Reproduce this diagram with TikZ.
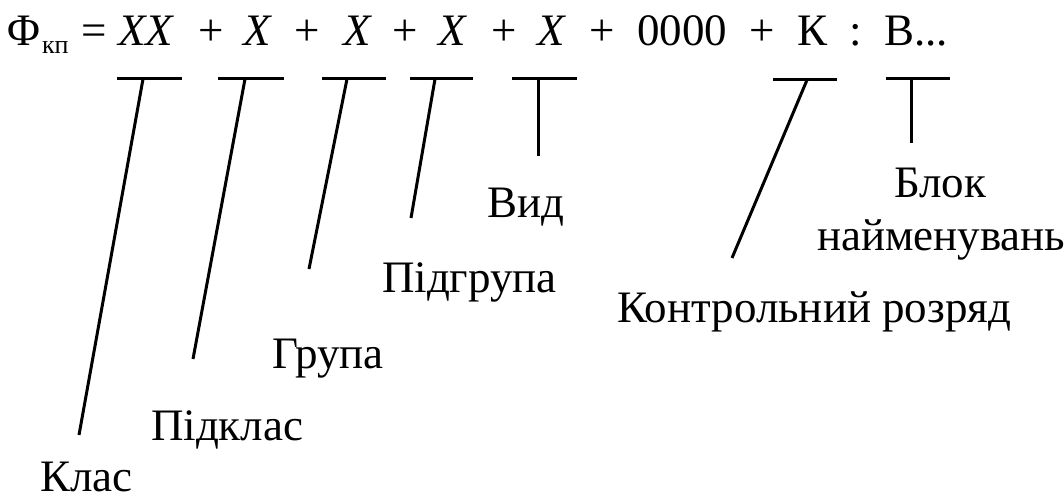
\documentclass[tikz,border=0pt]{standalone}
\usepackage{fontspec}
\setmainfont{Liberation Serif}
\newfontfamily\tnr{Liberation Serif}
\begin{document}
\begin{tikzpicture}[x=1pt,y=-1pt,
  txt/.style={anchor=base west,inner sep=0pt,outer sep=0pt,font=\tnr\fontsize{45}{54}\selectfont},
  sub/.style={anchor=base west,inner sep=0pt,outer sep=0pt,font=\tnr\fontsize{26}{30}\selectfont},
  ln/.style={line width=3pt,line cap=butt}]
\useasboundingbox (0,0) rectangle (1064,497);
% formula
\node[txt] (phi) at (7,46) {Φ};
\node[sub] (kp) at (42,54) {кп};
\node[txt] (eq) at (81,46) {=};
\node[txt] (xx) at (118,46) {\itshape XX};
\node[txt] (p1) at (198,46) {+};
\node[txt] (x1) at (243,46) {\itshape X};
\node[txt] (p2) at (294,46) {+};
\node[txt] (x2) at (343,46) {\itshape X};
\node[txt] (p3) at (392,46) {+};
\node[txt] (x3) at (438,46) {\itshape X};
\node[txt] (p4) at (491,46) {+};
\node[txt] (x4) at (537,46) {\itshape X};
\node[txt] (p5) at (589,46) {+};
\node[txt] (zz) at (637,46) {0000};
\node[txt] (p6) at (749,46) {+};
\node[txt] (kk) at (797,46) {К};
\node[txt] (col) at (849,46) {:};
\node[txt] (bb) at (884,46) {В...};
% labels
\node[txt] (klas) at (40,491) {Клас};
\node[txt] (pidklas) at (151,440) {Підклас};
\node[txt] (grupa) at (272,368) {Група};
\node[txt] (pidgrupa) at (382,292) {Підгрупа};
\node[txt] (vyd) at (487,217) {Вид};
\node[txt] (blok) at (894,197) {Блок};
\node[txt] (naim) at (817,250) {найменувань};
\node[txt] (kontr) at (617,322) {Контрольний розряд};
% bar coordinates
\coordinate (b1l) at (117,79); \coordinate (b1r) at (182,79);
\coordinate (b2l) at (218,79); \coordinate (b2r) at (284,79);
\coordinate (b3l) at (322,79); \coordinate (b3r) at (386,79);
\coordinate (b4l) at (410,79); \coordinate (b4r) at (473,79);
\coordinate (b5l) at (512,79); \coordinate (b5r) at (577,79);
\coordinate (b6l) at (773,80); \coordinate (b6r) at (837,80);
\coordinate (b7l) at (886,79); \coordinate (b7r) at (950,79);
\coordinate (t1) at (143,79); \coordinate (e1) at (79,435);
\coordinate (t2) at (245,79); \coordinate (e2) at (193,359);
\coordinate (t3) at (347,79); \coordinate (e3) at (309,269);
\coordinate (t4) at (435,79); \coordinate (e4) at (411,218);
\coordinate (t5) at (538,79); \coordinate (e5) at (538,156);
\coordinate (t6) at (807,80); \coordinate (e6) at (732,258);
\coordinate (t7) at (911,79); \coordinate (e7) at (911,143);
\foreach \i in {1,...,7} {
  \draw[ln] (b\i l) -- (b\i r);
  \draw[ln] (t\i) -- (e\i);
}
\end{tikzpicture}
\end{document}
